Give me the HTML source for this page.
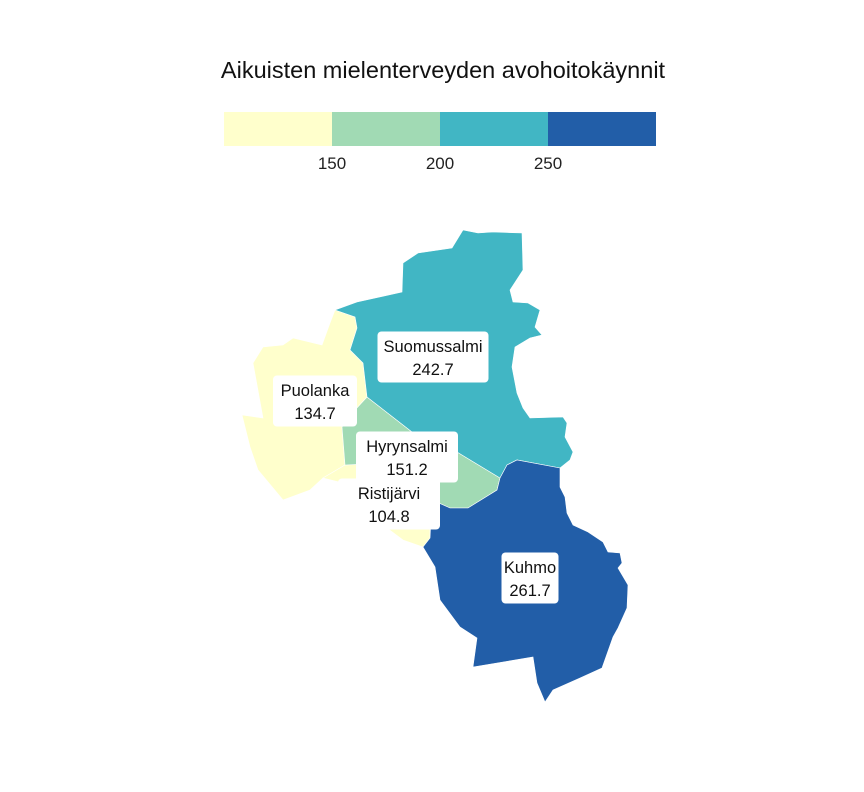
<!DOCTYPE html>
<html><head><meta charset="utf-8"><style>
body{margin:0;background:#fff;}
svg{display:block;font-family:"Liberation Sans",sans-serif;}
</style></head><body>
<svg id="chart" width="864" height="792">
<text x="443" y="78" text-anchor="middle" font-size="23.5" fill="#111">Aikuisten mielenterveyden avohoitokäynnit</text>
<g id="legend"></g>
<g id="regions"></g>
<g id="labels"></g>
</svg>
<script>
const names=["Puolanka","Ristijärvi","Hyrynsalmi","Suomussalmi","Kuhmo"];
const values=[134.7,104.8,151.2,242.7,261.7];
const breaks=[150,200,250];
const colors=["#ffffcc","#a1dab4","#41b6c4","#225ea8"];
const shapes={
Puolanka:[[335,310],[355,317],[357,328],[350,350],[363,363],[367,397],[355,410],[342,427],[345,465],[323,478],[310,490],[283,500],[258,470],[250,447],[242,415],[263,418],[253,363],[263,347],[283,345],[293,338],[322,345],[330,323]],
Ristijärvi:[[345,465],[385,463],[430,497],[430,538],[423,547],[403,540],[387,528],[348,508],[343,483],[323,478]],
Hyrynsalmi:[[367,397],[412,432],[457,452],[500,478],[497,490],[468,508],[450,508],[432,500],[430,497],[385,463],[345,465],[342,427],[355,410]],
Suomussalmi:[[335,310],[357,302],[402,292],[403,263],[418,253],[452,248],[463,230],[478,233],[493,232],[522,233],[523,270],[510,290],[513,302],[528,303],[540,310],[535,327],[542,335],[530,338],[515,347],[512,367],[517,393],[523,408],[530,418],[563,417],[567,423],[565,437],[573,452],[570,460],[560,468],[517,460],[507,465],[500,478],[457,452],[412,432],[367,397],[363,363],[350,350],[357,328],[355,317]],
Kuhmo:[[507,465],[517,460],[560,468],[560,487],[565,497],[567,513],[573,525],[588,532],[603,542],[608,552],[620,553],[622,563],[618,568],[628,585],[627,608],[618,628],[613,637],[602,668],[580,678],[553,690],[545,702],[537,683],[533,657],[473,667],[477,638],[460,627],[440,600],[435,567],[423,547],[430,538],[432,500],[450,508],[468,508],[497,490],[500,478]]
};
const labelPos={Puolanka:[315,401],Ristijärvi:[389,504],Hyrynsalmi:[407,457],Suomussalmi:[433,357],Kuhmo:[530,578]};
const labelOrder=["Puolanka","Ristijärvi","Hyrynsalmi","Suomussalmi","Kuhmo"];
const NS="http://www.w3.org/2000/svg";
function colorFor(v){let i=0;while(i<breaks.length&&v>=breaks[i])i++;return colors[i];}
const lx0=224,lw=108,ly=112,lh=34;
const lg=document.getElementById('legend');
colors.forEach((c,i)=>{const r=document.createElementNS(NS,'rect');
r.setAttribute('x',lx0+i*lw);r.setAttribute('y',ly);r.setAttribute('width',lw);r.setAttribute('height',lh);r.setAttribute('fill',c);


lg.appendChild(r);});
breaks.forEach((b,i)=>{const t=document.createElementNS(NS,'text');
t.setAttribute('x',lx0+(i+1)*lw);t.setAttribute('y',169);t.setAttribute('text-anchor','middle');t.setAttribute('font-size','17');t.setAttribute('fill','#222');t.textContent=b;


lg.appendChild(t);});
const rg=document.getElementById('regions'),lb=document.getElementById('labels');
names.forEach((n,i)=>{const p=document.createElementNS(NS,'polygon');
p.setAttribute('points',shapes[n].map(q=>q.join(',')).join(' '));
p.setAttribute('fill',colorFor(values[i]));p.setAttribute('stroke','#fff');p.setAttribute('stroke-width','0.6');


rg.appendChild(p);});
names.forEach((n,i)=>{const [cx,cy]=labelPos[n];const g=document.createElementNS(NS,'g');


const w=n.length*9+12,h=51;
const r=document.createElementNS(NS,'rect');r.setAttribute('x',cx-w/2);r.setAttribute('y',cy-h/2);r.setAttribute('width',w);r.setAttribute('height',h);r.setAttribute('rx',4);r.setAttribute('fill','#fff');
g.appendChild(r);
[n,values[i].toFixed(1)].forEach((s,k)=>{const t=document.createElementNS(NS,'text');t.setAttribute('x',cx);t.setAttribute('y',cy-5+k*23);t.setAttribute('text-anchor','middle');t.setAttribute('font-size','16.5');t.setAttribute('fill','#111');t.textContent=s;g.appendChild(t);});
lb.appendChild(g);});
</script>
</body></html>
